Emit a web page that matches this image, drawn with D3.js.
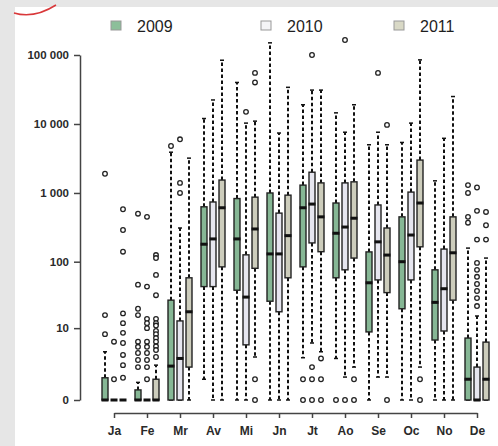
<!DOCTYPE html>
<html>
<head>
<meta charset="utf-8">
<script src="https://cdn.jsdelivr.net/npm/d3@7"></script>
<style>
    body { margin: 0; background: #fff; }
    svg { display: block; }
    .tick text { font-family: "Liberation Sans", Arial, sans-serif; font-weight: bold; fill: #2a2a2a; }
</style>
</head>
<body>
<svg id="chart" width="498" height="446"></svg>
<script>
var months = ["Ja", "Fe", "Mr", "Av", "Mi", "Jn", "Jt", "Ao", "Se", "Oc", "No", "De"];
var years = ["2009", "2010", "2011"];
var yTicks = [0, 10, 100, 1000, 10000, 100000];

// [whisker low, q1, median, q3, whisker high] per month
var stats2009 = [
    [0, 0, 0, 1.1, 4], [0, 0, 0, 0.4, 0.8], [0, 0, 2.1, 27, 3900], [1, 43, 180, 630, 12000],
    [0, 38, 215, 830, 40000], [0, 26, 130, 1000, 150000], [3.1, 84, 610, 1300, 19000], [3, 58, 260, 715, 14500],
    [0, 8.7, 49, 139, 5000], [0, 20, 100, 450, 5400], [0, 6.4, 25, 76, 1500], [0, 0, 1, 6.9, 158]
];
var stats2010 = [
    [0, 0, 0, 0, 0], [0, 0, 0, 0, 0], [0, 0, 3, 13, 310], [0, 43, 215, 740, 22300],
    [0, 5.3, 30, 126, 10300], [0, 18, 130, 510, 7400], [5.7, 188, 690, 2000, 31000], [1.15, 76, 320, 1400, 7600],
    [1.15, 54, 195, 670, 7600], [0, 54, 245, 1030, 10300], [0, 9, 40, 153, 6200], [0, 0, 0, 2, 15.5]
];
var stats2011 = [
    [0, 0, 0, 0, 0], [0, 0, 0, 1, 2.2], [0, 2, 18, 58, 3200], [0, 84, 610, 1540, 84000],
    [3.2, 80, 300, 870, 11000], [0, 58, 240, 930, 34000], [4, 140, 450, 1400, 31000], [2, 113, 430, 1450, 19000],
    [1.15, 35, 125, 310, 5000], [2, 165, 715, 3000, 85000], [0, 27, 135, 450, 25000], [0, 0, 1, 5.9, 113]
];

var out2009 = [
    [1900, 16, 8], [500, 46, 20, 16, 6, 4.9, 3.8, 2.8, 2], [4800], [], [], [], [1, 0], [0], [], [], [], [1300, 1000, 450, 370]
];
var out2010 = [
    [6, 1], [450, 43, 14, 12, 10, 6, 4.9, 3.8, 2.8, 2, 1], [1000, 1400, 6000], [], [15000], [],
    [100000, 2, 1, 0], [165000, 0], [55000], [], [], [1200, 550, 210, 96, 76, 60, 47, 37, 29, 22]
];
var out2011 = [
    [580, 290, 140, 17, 12, 8.4, 5.7, 3.5, 2.2, 1.1], [125, 113, 64, 32, 14, 12, 11, 9, 8, 6.9, 6, 5, 4.3, 3.2],
    [], [], [55000, 40000, 1, 0], [], [3, 1, 0], [1, 0], [9700, 0], [1, 0], [], [530, 340, 210]
];

var statsByYear = [stats2009, stats2010, stats2011];
var outByYear = [out2009, out2010, out2011];
var fills = ["#86b795", "#e6e6ef", "#cdcdbc"];
var legendFills = ["#8cbf9a", "#f4f4f6", "#d9d9c6"];

var svg = d3.select("#chart");

// photographed slide background
svg.append("rect").attr("width", 498).attr("height", 446).attr("fill", "#e6e6e6");
svg.append("rect").attr("x", 15).attr("y", 7).attr("width", 483).attr("height", 439).attr("fill", "#ffffff");
svg.append("path")
    .attr("d", "M14,13 Q34,19 56,5")
    .attr("fill", "none").attr("stroke", "#d9383a").attr("stroke-width", 1.5);

var y = d3.scaleSymlog().constant(1).domain([0, 100000]).range([400, 55]);
var x = d3.scalePoint().domain(months).range([114, 477]);
var off = d3.scalePoint().domain(years).range([-9, 9]);
var boxW = 6;

var fmt = function (d) { return d3.format(",")(d).replace(/,/g, " "); };

var yAxis = svg.append("g")
    .attr("transform", "translate(80,0)")
    .call(d3.axisLeft(y).tickValues(yTicks).tickFormat(fmt).tickSize(6).tickSizeOuter(0));
yAxis.selectAll("text").style("font-size", "11.5px").attr("dx", "-2");
yAxis.selectAll("line, path").attr("stroke", "#444").attr("stroke-width", 1.5);

var xAxis = svg.append("g")
    .attr("transform", "translate(0,413)")
    .call(d3.axisBottom(x).tickSize(5).tickSizeOuter(0));
xAxis.selectAll("text").style("font-size", "12px").attr("dy", "1.2em");
xAxis.selectAll("line, path").attr("stroke", "#444").attr("stroke-width", 1.5);

years.forEach(function (yr, i) {
    var stats = statsByYear[i];
    var g = svg.append("g").attr("class", "year-" + yr);

    var rows = stats.map(function (s, m) {
        return { month: months[m], s: s, out: outByYear[i][m] };
    });

    var cx = function (d) { return x(d.month) + off(yr); };

    // whiskers
    g.selectAll(".whisker-hi").data(rows).enter().append("line")
        .attr("x1", cx).attr("x2", cx)
        .attr("y1", function (d) { return y(d.s[3]); })
        .attr("y2", function (d) { return y(d.s[4]); })
        .attr("stroke", "#111").attr("stroke-width", 2).attr("stroke-dasharray", "3.5,2.5");
    g.selectAll(".whisker-lo").data(rows).enter().append("line")
        .attr("x1", cx).attr("x2", cx)
        .attr("y1", function (d) { return y(d.s[1]); })
        .attr("y2", function (d) { return y(d.s[0]); })
        .attr("stroke", "#111").attr("stroke-width", 2).attr("stroke-dasharray", "3.5,2.5");
    [0, 4].forEach(function (k) {
        g.selectAll(".cap" + k).data(rows).enter().append("line")
            .attr("x1", function (d) { return cx(d) - 2; })
            .attr("x2", function (d) { return cx(d) + 2; })
            .attr("y1", function (d) { return y(d.s[k]); })
            .attr("y2", function (d) { return y(d.s[k]); })
            .attr("stroke", "#111").attr("stroke-width", 1.5);
    });

    // boxes
    g.selectAll(".box").data(rows).enter().append("rect")
        .attr("x", function (d) { return cx(d) - boxW / 2; })
        .attr("y", function (d) { return y(d.s[3]); })
        .attr("width", boxW)
        .attr("height", function (d) { return y(d.s[1]) - y(d.s[3]); })
        .attr("fill", fills[i])
        .attr("stroke", "#222").attr("stroke-width", 1.4);

    // medians
    g.selectAll(".median").data(rows).enter().append("rect")
        .attr("x", function (d) { return cx(d) - boxW / 2 - 0.5; })
        .attr("y", function (d) { return y(d.s[2]) - 1.5; })
        .attr("width", boxW + 1).attr("height", 3)
        .attr("fill", "#111");

    // outliers
    rows.forEach(function (d) {
        g.selectAll(null).data(d.out).enter().append("circle")
            .attr("cx", cx(d))
            .attr("cy", function (v) { return y(v); })
            .attr("r", 2.3)
            .attr("fill", "#fff")
            .attr("stroke", "#222").attr("stroke-width", 1.3);
    });
});

// legend
var legendX = [111, 261, 394];
years.forEach(function (yr, i) {
    svg.append("rect")
        .attr("x", legendX[i]).attr("y", 21).attr("width", 10).attr("height", 9)
        .attr("fill", legendFills[i])
        .attr("stroke", "#999").attr("stroke-width", 1);
    svg.append("text")
        .attr("x", legendX[i] + 26).attr("y", 32)
        .attr("font-family", "Liberation Sans, Arial, sans-serif")
        .attr("font-size", 16).attr("fill", "#1e1e1e")
        .text(yr);
});
</script>
</body>
</html>
